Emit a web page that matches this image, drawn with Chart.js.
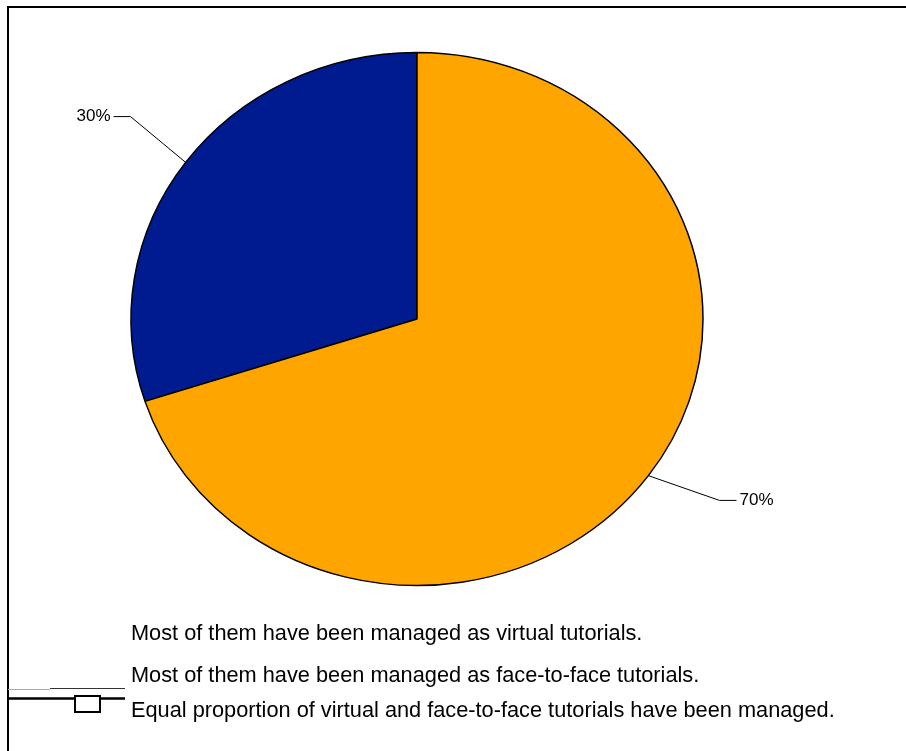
<!DOCTYPE html>
<html>
<head>
<meta charset="utf-8">
<script src="https://cdn.jsdelivr.net/npm/chart.js@4.4.0/dist/chart.umd.min.js"></script>
<style>
  html, body { margin: 0; padding: 0; background: #fff; }
  #wrap { position: relative; width: 906px; height: 751px; }
</style>
</head>
<body>
<div id="wrap"><canvas id="myChart" width="906" height="751"></canvas></div>
<script>
const categories = [
  "Most of them have been managed as virtual tutorials.",
  "Most of them have been managed as face-to-face tutorials.",
  "Equal proportion of virtual and face-to-face tutorials have been managed."
];
const shares = [30, 70, 0];
const sliceColors = ["#001b8f", "#ffa500", "#ffffff"];

const canvas = document.getElementById("myChart");
const ctx = canvas.getContext("2d");
const squash = 266.5 / 286; // the pie is drawn a bit flatter than a circle
const FONT = "'Liberation Sans', Arial, sans-serif";

// squash the pie vertically around its centre
const flattenPie = {
  id: "flattenPie",
  beforeDatasetsDraw(chart) {
    const arc = chart.getDatasetMeta(0).data[0];
    const c = chart.ctx;
    c.save();
    c.translate(arc.x, arc.y);
    c.scale(1, squash);
    c.translate(-arc.x, -arc.y);
  },
  afterDatasetsDraw(chart) {
    chart.ctx.restore();
  }
};

// percentage labels with leader lines
const sliceLabels = {
  id: "sliceLabels",
  afterDatasetsDraw(chart) {
    const c = chart.ctx;
    const meta = chart.getDatasetMeta(0);
    c.save();
    c.strokeStyle = "#000";
    c.lineWidth = 1;
    c.fillStyle = "#000";
    c.font = "17px " + FONT;
    c.textBaseline = "middle";
    meta.data.forEach((arc, i) => {
      if (!shares[i]) return;
      const mid = (arc.startAngle + arc.endAngle) / 2;
      const cos = Math.cos(mid), sin = Math.sin(mid);
      const ex = arc.x + cos * arc.outerRadius;
      const ey = arc.y + sin * arc.outerRadius * squash;
      // elbows sit a little up and to the right of the radial direction
      const bx = ex + cos * 78 + 8;
      const by = ey + sin * 60 - 10.5;
      const dir = cos < 0 ? -1 : 1;
      const tx = bx + dir * 17;
      c.beginPath();
      c.moveTo(ex, ey);
      c.lineTo(bx, by);
      c.lineTo(tx, by);
      c.stroke();
      c.textAlign = dir < 0 ? "right" : "left";
      c.fillText(shares[i] + "%", tx + dir * 3, by);
    });
    c.restore();
  }
};

// outer frame, key strip and legend text
const frameAndKey = {
  id: "frameAndKey",
  beforeDraw(chart) {
    const c = chart.ctx;
    c.save();
    c.fillStyle = "#fff";
    c.fillRect(0, 0, chart.width, chart.height);
    c.strokeStyle = "#000";
    c.lineWidth = 2;
    c.beginPath();
    c.moveTo(8, chart.height);
    c.lineTo(8, 7);
    c.lineTo(chart.width, 7);
    c.stroke();
    c.restore();
  },
  afterDraw(chart) {
    const c = chart.ctx;
    c.save();
    // key strip on the left
    c.lineWidth = 1;
    c.strokeStyle = "#aaa";
    c.beginPath(); c.moveTo(8, 689.5); c.lineTo(50, 689.5); c.stroke();
    c.strokeStyle = "#333";
    c.beginPath(); c.moveTo(50, 688.5); c.lineTo(125, 688.5); c.stroke();
    c.lineWidth = 2.5;
    c.strokeStyle = "#000";
    c.beginPath(); c.moveTo(8, 698.5); c.lineTo(125, 698.5); c.stroke();
    c.fillStyle = sliceColors[2];
    c.fillRect(75, 696, 25, 16);
    c.lineWidth = 2;
    c.strokeRect(75, 696, 25, 16);

    // legend entries
    const rows = [634, 676, 711];
    c.fillStyle = "#000";
    c.font = "21.75px " + FONT;
    c.textAlign = "left";
    c.textBaseline = "middle";
    categories.forEach((name, i) => {
      c.fillText(name, 131, rows[i]);
    });
    c.restore();
  }
};

const myChart = new Chart(ctx, {
  type: "pie",
  data: {
    labels: categories,
    datasets: [{
      data: shares,
      backgroundColor: sliceColors,
      borderColor: "#000",
      borderWidth: 1.5,
      radius: 286
    }]
  },
  options: {
    responsive: false,
    animation: false,
    events: [],
    rotation: 252,
    layout: { padding: { left: 131, right: 203, top: 33, bottom: 146 } },
    plugins: {
      legend: { display: false },
      tooltip: { enabled: false }
    }
  },
  plugins: [frameAndKey, flattenPie, sliceLabels]
});
</script>
</body>
</html>
